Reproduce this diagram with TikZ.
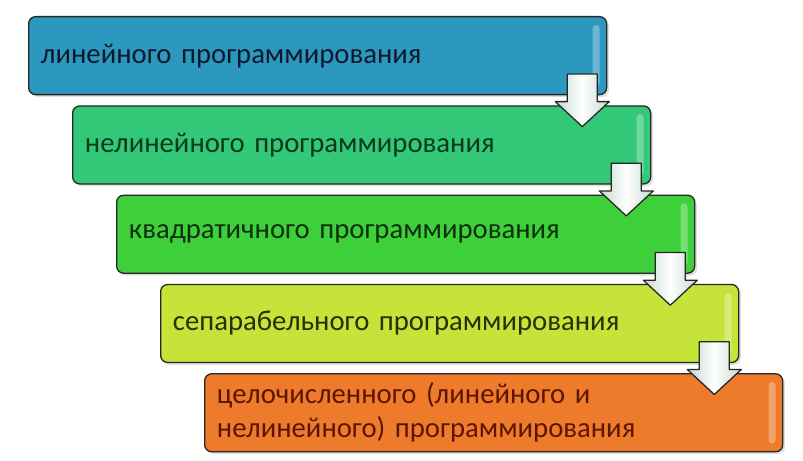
\documentclass[tikz,border=0pt]{standalone}
\usepackage{fontspec}
\setmainfont[WordSpace=0.7]{Carlito}
\usetikzlibrary{positioning,shadows,calc}
\definecolor{fillone}{HTML}{2C97BF}
\definecolor{filltwo}{HTML}{33C878}
\definecolor{fillthree}{HTML}{3ED03B}
\definecolor{fillfour}{HTML}{C6E33A}
\definecolor{fillfive}{HTML}{EE7A2C}
\definecolor{textone}{HTML}{0E1A2B}
\definecolor{texttwo}{HTML}{0A3A1C}
\definecolor{textthree}{HTML}{0E2E0E}
\definecolor{textfour}{HTML}{263000}
\definecolor{textfive}{HTML}{5C1600}
\definecolor{arrowedge}{HTML}{C3D9CF}
\tikzset{
  stepbox/.style = {rectangle, rounded corners=6pt, draw=black!85, line width=1.1pt,
    minimum height=2.34cm, text width=16.6cm, inner xsep=0.37cm, align=left,
    font=\fontsize{24.5}{29}\selectfont,
    drop shadow={opacity=0.25, shadow xshift=2pt, shadow yshift=-2pt},
    path picture={\fill[white, opacity=0.3, rounded corners=3pt]
      ([xshift=-12pt,yshift=-7pt]path picture bounding box.north east) rectangle
      ([xshift=-6pt,yshift=7pt]path picture bounding box.south east);}},
  downarrow/.style = {draw=black!85, line width=1.1pt, line join=round,
    left color=arrowedge, right color=arrowedge, middle color=white},
}
\begin{document}
\begin{tikzpicture}
\useasboundingbox (0,0) rectangle (24.09,-13.83);
\node (b1) [stepbox, fill=fillone, text=textone, anchor=north west] at (0.84,-0.48) {линейного программирования};
\node (b2) [stepbox, fill=filltwo, text=texttwo, below right=0.3cm and 1.32cm of b1.south west] {нелинейного программирования};
\node (b3) [stepbox, fill=fillthree, text=textthree, below right=0.3cm and 1.32cm of b2.south west] {квадратичного программирования};
\node (b4) [stepbox, fill=fillfour, text=textfour, below right=0.3cm and 1.32cm of b3.south west] {сепарабельного программирования};
\node (b5) [stepbox, fill=fillfive, text=textfive, below right=0.3cm and 1.32cm of b4.south west] {целочисленного (линейного и\\нелинейного) программирования};

% block arrows between the steps
\foreach \u/\v in {b1/b2,b2/b3,b3/b4,b4/b5}{
  \coordinate (\u\v) at ([xshift=-0.75cm,yshift=-0.15cm]\u.south east);
  \draw[downarrow] ([shift={(-0.45,0.79)}]\u\v) -- ++(0.9,0) -- ++(0,-0.83) -- ++(0.36,0)
    -- ++(-0.81,-0.75) -- ++(-0.81,0.75) -- ++(0.36,0) -- cycle;
}
\end{tikzpicture}
\end{document}
